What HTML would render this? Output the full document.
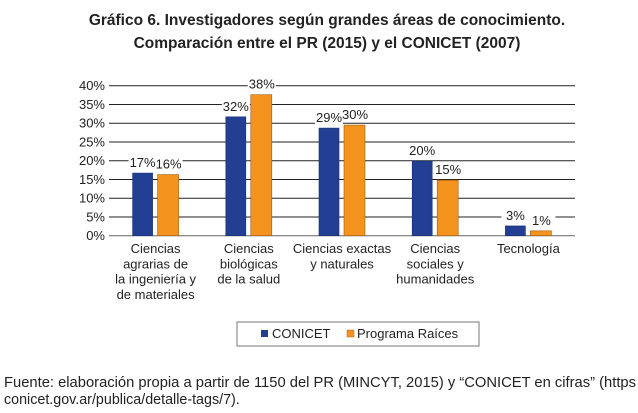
<!DOCTYPE html>
<html><head><meta charset="utf-8"><style>
body{margin:0;width:638px;height:413px;background:#fff;font-family:"Liberation Sans",sans-serif;overflow:hidden}
</style></head><body>
<svg width="638" height="413" style="position:absolute;left:0;top:0" font-family="Liberation Sans, sans-serif">
<text x="327" y="25" text-anchor="middle" font-size="15.5" font-weight="bold" fill="#222">Gráfico 6. Investigadores según grandes áreas de conocimiento.</text>
<text x="327" y="48" text-anchor="middle" font-size="15.5" font-weight="bold" fill="#222">Comparación entre el PR (2015) y el CONICET (2007)</text>
<g id="plot"></g>
<rect x="237" y="322" width="242" height="24" fill="#fff" stroke="#777"/>
<rect x="261" y="330" width="7" height="7" fill="#233f94"/>
<text x="272" y="338" font-size="13" fill="#222">CONICET</text>
<rect x="347" y="330" width="7" height="7" fill="#f4931e" stroke="#b06a10" stroke-width="0.5"/>
<text x="357" y="338" font-size="13" fill="#222">Programa Raíces</text>
<text x="4" y="387" font-size="14.3" fill="#222" textLength="632" lengthAdjust="spacingAndGlyphs">Fuente: elaboración propia a partir de 1150 del PR (MINCYT, 2015) y “CONICET en cifras” (https</text>
<text x="4" y="404" font-size="14.3" fill="#222">conicet.gov.ar/publica/detalle-tags/7).</text>
</svg>
<script>
const categories=[["Ciencias","agrarias de","la ingeniería y","de materiales"],["Ciencias","biológicas","de la salud"],["Ciencias exactas","y naturales"],["Ciencias","sociales y","humanidades"],["Tecnología"]];
const conicet=[16.7,31.7,28.7,19.9,2.6];
const raices=[16.3,37.6,29.5,14.8,1.3];
const conicetLabels=["17%","32%","29%","20%","3%"];
const raicesLabels=["16%","38%","30%","15%","1%"];
const ticks=[0,5,10,15,20,25,30,35,40];
const NS="http://www.w3.org/2000/svg";
const g=document.getElementById('plot');
const x0=109,x1=575,y0=235.7,ppu=3.75;
const y=v=>y0-v*ppu;
const bw=(x1-x0)/categories.length;
function mk(t,a){const e=document.createElementNS(NS,t);for(const k in a)e.setAttribute(k,a[k]);g.appendChild(e);return e;}
ticks.forEach(t=>{
 const l=mk('line',{x1:x0,x2:x1,y1:y(t),y2:y(t),stroke:t===0?'#666':'#222','stroke-width':1});
 
 
 const tx=mk('text',{x:x0-4,y:y(t)+4.5,'text-anchor':'end','font-size':13,fill:'#222'});
 tx.textContent=t+'%';
 
 
});
function labelBg(x,yy,n){const bg=mk('rect',{x:x-14,y:yy-12,width:28,height:15,fill:'#fff'});
 
 }
function label(x,yy,s,n){
 const t=mk('text',{x:x,y:yy,'text-anchor':'middle','font-size':13,fill:'#222'});t.textContent=s;
 
 }
categories.forEach((c,i)=>{
 const cx=x0+bw*(i+0.5);
 labelBg(cx-13,y(conicet[i])-6,'value-conicet-'+i);
 labelBg(cx+13,y(raices[i])-6,'value-raices-'+i);
});
categories.forEach((c,i)=>{
 const cx=x0+bw*(i+0.5);
 const b1=mk('rect',{x:cx-23,y:y(conicet[i]),width:20,height:conicet[i]*ppu,fill:'#233f94',stroke:'#1a2f70','stroke-width':0.6});
 
 
 const b2=mk('rect',{x:cx+2,y:y(raices[i]),width:21,height:raices[i]*ppu,fill:'#f4931e',stroke:'#9a5a10','stroke-width':0.6});
 
 
 label(cx-13,y(conicet[i])-6,conicetLabels[i],'value-conicet-'+i);
 label(cx+13,y(raices[i])-6,raicesLabels[i],'value-raices-'+i);
 c.forEach((ln,j)=>{const t=mk('text',{x:cx,y:253+j*15.3,'text-anchor':'middle','font-size':13,fill:'#222'});t.textContent=ln;
  
  });
});
</script>
</body></html>
